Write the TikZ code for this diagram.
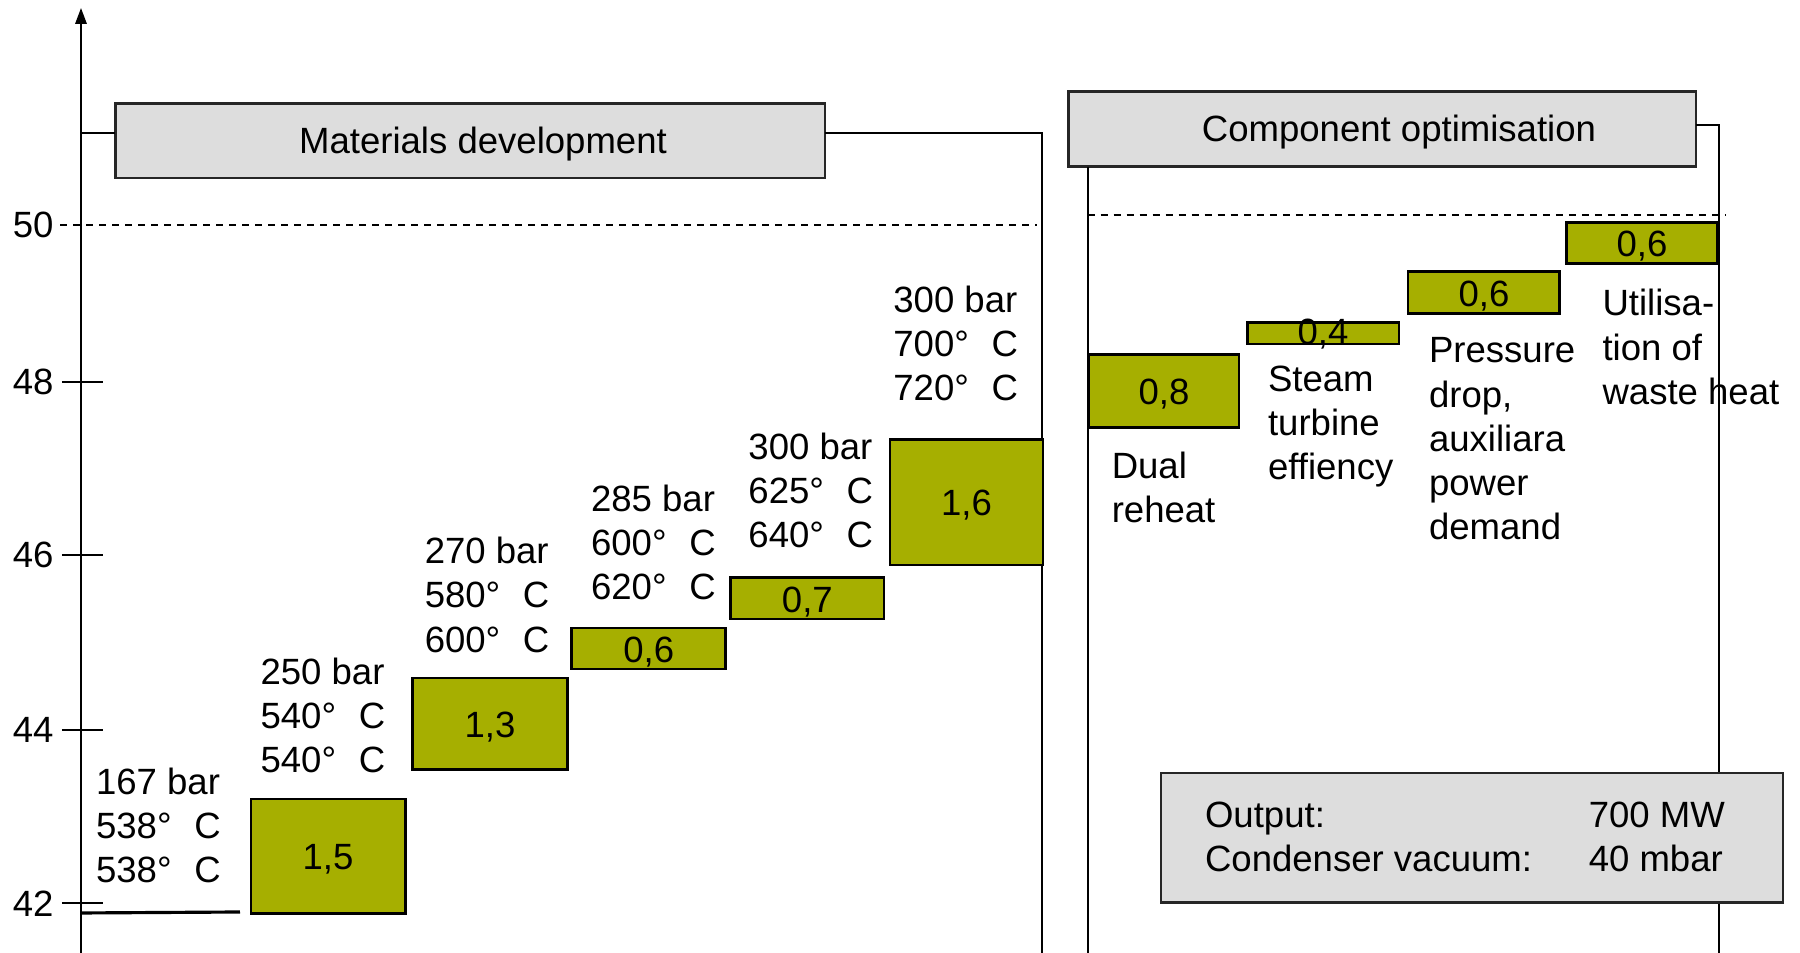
\documentclass[tikz,border=0pt]{standalone}
\usepackage{fontspec}
\setmainfont{Liberation Sans}
\usetikzlibrary{arrows.meta}

\definecolor{gaingreen}{RGB}{166,175,0}
\definecolor{headgray}{RGB}{221,221,221}
\newcommand{\degC}{°\hspace{0.62em}C}

\tikzset{
  gain/.style={draw=black, fill=gaingreen, line width=0.8pt},
  headbox/.style={draw=black!85, fill=headgray, line width=0.8pt},
  val/.style={yshift=-1pt},
  % placed at the baseline of the last line
  txt/.style={anchor=base west, align=left, inner sep=0pt},
  target/.style={dash pattern=on 2pt off 1.7pt},
}

\begin{document}
\begin{tikzpicture}[font=\fontsize{10.4}{12.57}\selectfont, line width=0.6pt]
\useasboundingbox (0,0) rectangle (18,9.53);

% efficiency axis
\draw[-{Triangle[length=4.5pt,width=3.2pt]}] (0.81,0) -- (0.81,9.45);
\foreach \v/\y in {42/0.497,44/2.23,46/3.98,48/5.707} {
  \draw (0.62,\y) -- (1.03,\y);
  \node[anchor=east, inner sep=0pt] (t\v) at (0.545,\y) {\v};
}
\node[anchor=east, inner sep=0pt] (t50) at (0.545,7.277) {50};
\draw[target] (0.60,7.277) -- (10.37,7.277);
\draw[line width=0.9pt] (0.81,0.40) -- (2.40,0.41);

% left group
\draw[headbox] (1.154,7.75) rectangle (8.25,8.493);
\node[val] (mat) at (4.83,8.12) {Materials development};
\draw (0.81,8.197) -- (1.154,8.197);
\draw (8.25,8.197) -- (10.42,8.197) -- (10.42,0);

\draw[gain] (2.51,0.397) rectangle (4.053,1.54);
\node[val] (g1) at (3.28,0.97) {1,5};
\draw[gain] (4.127,1.837) rectangle (5.672,2.75);
\node[val] (g2) at (4.90,2.29) {1,3};
\draw[gain] (5.718,2.84) rectangle (7.256,3.25);
\node[val] (g3) at (6.487,3.045) {0,6};
\draw[gain] (7.308,3.34) rectangle (8.84,3.753);
\node[val] (g4) at (8.074,3.547) {0,7};
\draw[gain] (8.90,3.88) rectangle (10.43,5.137);
\node[val] (g5) at (9.665,4.51) {1,6};

\node[txt] (s1) at (0.95,0.706) {167 bar\\538\degC\\538\degC};
\node[txt] (s2) at (2.595,1.801) {250 bar\\540\degC\\540\degC};
\node[txt] (s3) at (4.237,3.009) {270 bar\\580\degC\\600\degC};
\node[txt] (s4) at (5.90,3.536) {285 bar\\600\degC\\620\degC};
\node[txt] (s5) at (7.474,4.056) {300 bar\\625\degC\\640\degC};
\node[txt] (s6) at (8.923,5.523) {300 bar\\700\degC\\720\degC};

% right group
\draw[headbox] (10.687,7.863) rectangle (16.96,8.613);
\node[val] (comp) at (13.99,8.24) {Component optimisation};
\draw (10.877,7.863) -- (10.877,0);
\draw (16.96,8.283) -- (17.19,8.283) -- (17.19,0);
\draw[target] (10.877,7.377) -- (17.25,7.377);

\draw[gain] (10.89,5.253) rectangle (12.39,5.987);
\node[val] (g6) at (11.64,5.62) {0,8};
\draw[gain] (12.477,6.09) rectangle (13.99,6.303);
\node[val] (g7) at (13.23,6.22) {0,4};
\draw[gain] (14.08,6.397) rectangle (15.593,6.813);
\node[val] (g8) at (14.84,6.605) {0,6};
\draw[gain] (15.667,6.897) rectangle (17.173,7.307);
\node[val] (g9) at (16.42,7.10) {0,6};

\node[txt] (c1) at (11.107,4.30) {Dual\\reheat};
\node[txt] (c2) at (12.67,4.731) {Steam\\turbine\\effiency};
\node[txt] (c3) at (14.28,4.134) {Pressure\\drop,\\auxiliara\\power\\demand};
\node[txt] (c4) at (16.015,5.488) {Utilisa-\\tion of\\waste heat};

% plant data
\draw[headbox] (11.61,0.503) rectangle (17.83,1.80);
\node[txt] (outl) at (12.04,0.81) {Output:\\Condenser vacuum:};
\node[txt] (outr) at (15.877,0.81) {700 MW\\40 mbar};
\end{tikzpicture}
\end{document}
